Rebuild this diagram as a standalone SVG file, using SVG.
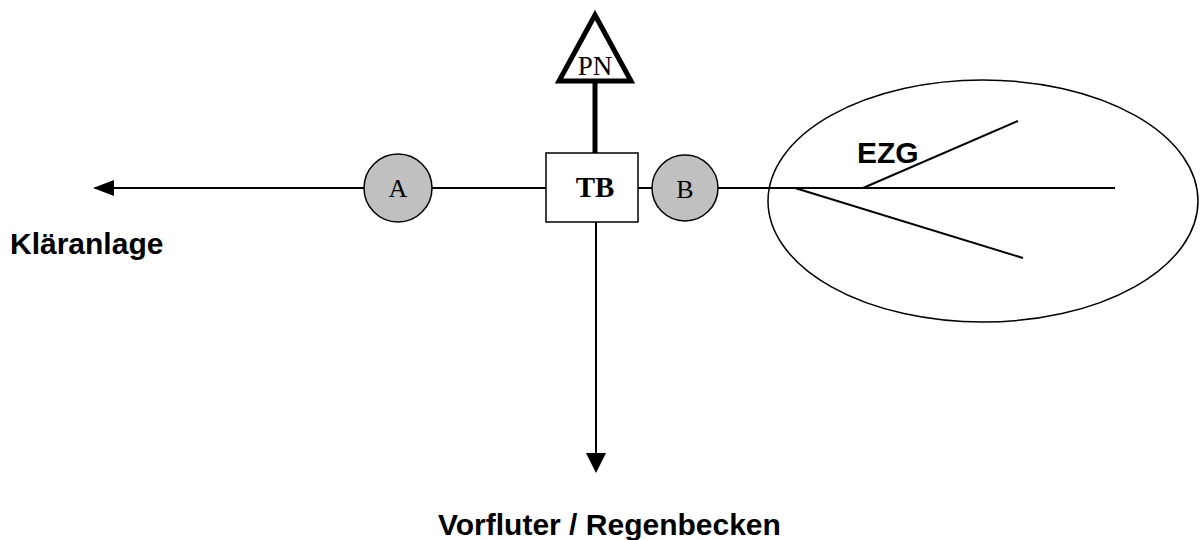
<svg xmlns="http://www.w3.org/2000/svg" width="1200" height="540" viewBox="0 0 1200 540">
<style>
.ln{stroke:#000;stroke-width:2;fill:none}
.circ{fill:#c0c0c0;stroke:#000;stroke-width:1.5}
.serif{font-family:"Liberation Serif",serif;fill:#000}
.sans{font-family:"Liberation Sans",Arial,sans-serif;font-weight:bold;fill:#000}
</style>
<rect width="1200" height="540" fill="#fff"/>
<g id="connectors">
<line class="ln" x1="364" y1="188" x2="95" y2="188"/>
<path d="M93,188 L114,180 L114,196 Z" fill="#000"/>
<line class="ln" x1="432" y1="188" x2="546" y2="188"/>
<line class="ln" x1="638" y1="188" x2="652" y2="188"/>
<line class="ln" x1="718" y1="188" x2="1115" y2="188"/>
<line class="ln" x1="863" y1="188" x2="1018" y2="121"/>
<line class="ln" x1="795" y1="188" x2="1023" y2="258"/>
<line class="ln" x1="596" y1="222" x2="596" y2="455"/>
<path d="M586,453 L606,453 L596,473 Z" fill="#000"/>
<line x1="595" y1="83" x2="595" y2="153" stroke="#000" stroke-width="5"/>
</g>
<g id="PN">
<path d="M595,15 L631,81 L559,81 Z" fill="#fff" stroke="#000" stroke-width="5" stroke-linejoin="miter"/>
<text class="serif" x="595" y="75" font-size="27" text-anchor="middle">PN</text>
</g>
<g id="TB">
<rect x="546" y="153" width="92" height="69" fill="#fff" stroke="#000" stroke-width="1.5"/>
<text class="serif" x="595" y="197" font-size="29" font-weight="bold" text-anchor="middle">TB</text>
</g>
<g id="A">
<circle class="circ" cx="398" cy="188" r="34"/>
<text class="serif" x="398" y="197" font-size="26" text-anchor="middle">A</text>
</g>
<g id="B">
<circle class="circ" cx="685" cy="188" r="33"/>
<text class="serif" x="685" y="198" font-size="26" text-anchor="middle">B</text>
</g>
<g id="EZG">
<ellipse cx="983" cy="201" rx="215" ry="121" fill="none" stroke="#000" stroke-width="1.5"/>
<text class="sans" x="857" y="163" font-size="30">EZG</text>
</g>
<g id="labels">
<text class="sans" x="10" y="254" font-size="30">Kläranlage</text>
<text class="sans" x="438" y="535" font-size="30">Vorfluter / Regenbecken</text>
</g>
</svg>
